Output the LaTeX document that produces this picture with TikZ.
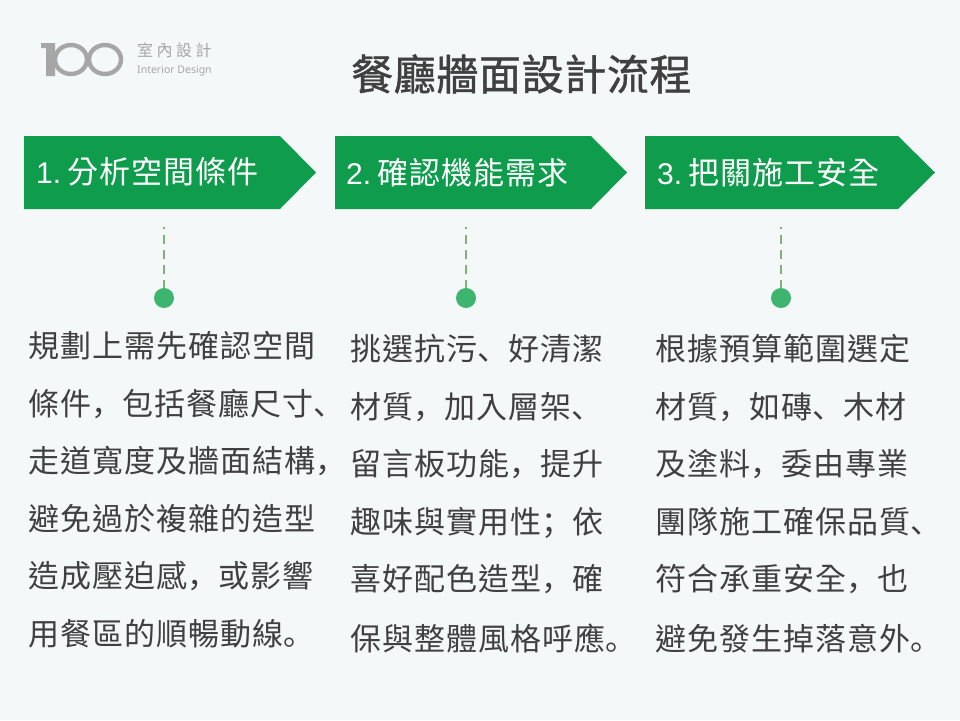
\documentclass[tikz,border=0pt]{standalone}
\usepackage{fontspec}
\setmainfont{Noto Sans CJK TC}
\newfontfamily\bodyfont[LetterSpace=3.3]{Noto Sans CJK TC}
\newfontfamily\puncfont[LetterSpace=8]{Noto Sans CJK SC}
\newfontfamily\titlefont[LetterSpace=1.5,FakeBold=1.1]{Noto Sans CJK TC}
\newfontfamily\logofont[LetterSpace=22]{Noto Sans CJK TC}
\newfontfamily\latinfont{Liberation Sans}
\newfontfamily\logolatin{Noto Sans}
\newcommand{\cma}{{\puncfont ，}}
\newcommand{\dun}{{\puncfont 、}}
\newcommand{\stp}{{\puncfont 。}}
\newcommand{\sem}{{\puncfont ；}}
\newcommand{\stepno}[1]{\makebox[31pt][l]{\latinfont\fontsize{30}{30}\selectfont #1}}
\definecolor{pagebg}{HTML}{F4F8F9}
\definecolor{arrowgreen}{HTML}{0F9D4D}
\definecolor{dotgreen}{HTML}{3DB56F}
\definecolor{dashgreen}{HTML}{7DB377}
\definecolor{logogray}{HTML}{A6A6A6}
\definecolor{bodygray}{HTML}{404040}

\begin{document}
\begin{tikzpicture}[x=1pt,y=-1pt]
	\tikzstyle{every node}=[inner sep=0pt, anchor=base west]
	\tikzstyle{bodyline}=[text=bodygray, font=\bodyfont\fontsize{31}{31}\selectfont]
	\tikzstyle{headline}=[text=white, font=\bodyfont\fontsize{31}{31}\selectfont]
	\tikzstyle{headarrow}=[fill=arrowgreen]
	\tikzstyle{stepdot}=[circle, fill=dotgreen, minimum width=20pt, anchor=center]
	\tikzstyle{stepdash}=[dashgreen, line width=1.6pt, dash pattern=on 9pt off 6pt, dash phase=7pt]
	\tikzstyle{logoline}=[logogray, line width=4.4pt]
	\useasboundingbox (0,0) rectangle (960,720);
	\fill[pagebg] (0,0) rectangle (960,720);
	% logo
	\fill[logogray] (41,43) -- (55,43) -- (55,76) -- (46,76) -- (46,48) -- (41,48) -- cycle;
	\draw[logoline] (71,59.5) ellipse [x radius=16, y radius=14.5];
	\draw[logoline] (105,59.5) ellipse [x radius=16, y radius=14.5];
	\draw (137,56) node (logocn) [text=logogray, font=\logofont\fontsize{16}{16}\selectfont] {室內設計};
	\draw (137,73) node (logoen) [text=logogray, font=\logolatin\fontsize{10.5}{10.5}\selectfont] {Interior Design};
	% title
	\draw (351,90) node (title) [text=bodygray, font=\titlefont\fontsize{42}{42}\selectfont] {餐廳牆面設計流程};
	% steps
	\fill[headarrow] (24,136) -- (280,136) -- (316,172.5) -- (280,209) -- (24,209) -- cycle;
	\fill[headarrow] (335,136) -- (591,136) -- (627,172.5) -- (591,209) -- (335,209) -- cycle;
	\fill[headarrow] (645,136) -- (898,136) -- (935,172.5) -- (898,209) -- (645,209) -- cycle;
	\draw (36,183) node (head1) [headline] {\stepno{1.}分析空間條件};
	\draw (346,184) node (head2) [headline] {\stepno{2.}確認機能需求};
	\draw (657,184) node (head3) [headline] {\stepno{3.}把關施工安全};
	\coordinate (top1) at (164,227);
	\coordinate (top2) at (466,227);
	\coordinate (top3) at (781,227);
	\draw (164,298) node (dot1) [stepdot] {};
	\draw (466,298) node (dot2) [stepdot] {};
	\draw (781,298) node (dot3) [stepdot] {};
	\draw[stepdash] (top1) -- (dot1);
	\draw[stepdash] (top2) -- (dot2);
	\draw[stepdash] (top3) -- (dot3);
	% text
	\draw (28,357) node (a1) [bodyline] {規劃上需先確認空間};
	\draw (28,415) node (a2) [bodyline] {條件\cma 包括餐廳尺寸\dun};
	\draw (28,472) node (a3) [bodyline] {走道寬度及牆面結構\cma};
	\draw (28,530) node (a4) [bodyline] {避免過於複雜的造型};
	\draw (28,587) node (a5) [bodyline] {造成壓迫感\cma 或影響};
	\draw (28,645) node (a6) [bodyline] {用餐區的順暢動線\stp};
	\draw (350,360) node (b1) [bodyline] {挑選抗污\dun 好清潔};
	\draw (350,418) node (b2) [bodyline] {材質\cma 加入層架\dun};
	\draw (350,475) node (b3) [bodyline] {留言板功能\cma 提升};
	\draw (350,533) node (b4) [bodyline] {趣味與實用性\sem 依};
	\draw (350,590) node (b5) [bodyline] {喜好配色造型\cma 確};
	\draw (350,650) node (b6) [bodyline] {保與整體風格呼應\stp};
	\draw (655,360) node (c1) [bodyline] {根據預算範圍選定};
	\draw (655,418) node (c2) [bodyline] {材質\cma 如磚\dun 木材};
	\draw (655,475) node (c3) [bodyline] {及塗料\cma 委由專業};
	\draw (655,533) node (c4) [bodyline] {團隊施工確保品質\dun};
	\draw (655,590) node (c5) [bodyline] {符合承重安全\cma 也};
	\draw (655,650) node (c6) [bodyline] {避免發生掉落意外\stp};
\end{tikzpicture}
\end{document}
